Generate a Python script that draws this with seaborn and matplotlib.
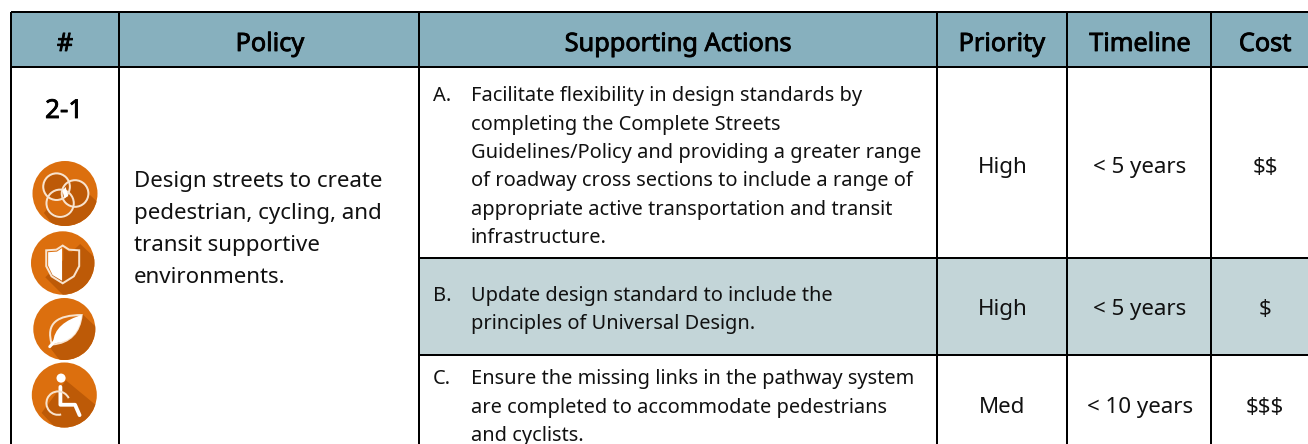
import numpy as np
import matplotlib
matplotlib.use("Agg")
import matplotlib.pyplot as plt
import matplotlib.patheffects as pe
from matplotlib.patches import Circle, Polygon, Arc, PathPatch
from matplotlib.path import Path
import seaborn as sns

headers = ["#", "Policy", "Supporting Actions", "Priority", "Timeline", "Cost"]
policy_id = "2-1"
policy_lines = ["Design streets to create", "pedestrian, cycling, and",
                "transit supportive", "environments."]
action_letters = ["A.", "B.", "C."]
action_lines = [
    ["Facilitate flexibility in design standards by", "completing the Complete Streets",
     "Guidelines/Policy and providing a greater range", "of roadway cross sections to include a range of",
     "appropriate active transportation and transit", "infrastructure."],
    ["Update design standard to include the", "principles of Universal Design."],
    ["Ensure the missing links in the pathway system", "are completed to accommodate pedestrians",
     "and cyclists."],
]
priorities = ["High", "High", "Med"]
timelines = ["< 5 years", "< 5 years", "< 10 years"]
costs = ["$$", "$", "$$$"]

col_edges = [11, 118.5, 418.5, 936.7, 1067, 1211, 1312]
col_centers = [65, 270, 678, 1002, 1140, 1265]
row_edges = [12, 67.5, 258, 354.5, 448]

HEAD = "#87B0BE"
BAND = "#C3D5D8"
ORANGE = "#DC6F0E"
SHADE = "#BD5A07"
INK = "#111111"
FONT = "Noto Sans"

sns.set_theme(style="white", rc={"axes.facecolor": "white", "figure.facecolor": "white"})
plt.rcParams["font.family"] = [FONT, "DejaVu Sans"]

fig = plt.figure(figsize=(13.08, 4.44), dpi=100)
ax = fig.add_axes([0, 0, 1, 1])
ax.set_xlim(0, 1308)
ax.set_ylim(444, 0)
ax.axis("off")
sns.despine(ax=ax, left=True, bottom=True)

PX = 0.72  # points per pixel at dpi 100

# fills
ax.fill_between([col_edges[0], 1308], row_edges[0], row_edges[1], color=HEAD, lw=0, zorder=1)
ax.fill_between([col_edges[2], 1308], row_edges[2], row_edges[3], color=BAND, lw=0, zorder=1)

# rules
LW = 2.0 * PX
for y in row_edges[:2]:
    ax.plot([col_edges[0], 1308], [y, y], color="black", lw=LW, zorder=3, solid_capstyle="butt")
for y in row_edges[2:4]:
    ax.plot([col_edges[2], 1308], [y, y], color="black", lw=LW, zorder=3, solid_capstyle="butt")
for x in col_edges[:6]:
    ax.plot([x, x], [row_edges[0], 444], color="black", lw=LW, zorder=3, solid_capstyle="butt")

# text
head_fx = [pe.withStroke(linewidth=0.6, foreground="black")]
for h, cx in zip(headers, col_centers):
    ax.text(cx, 51, h, ha="center", va="baseline", fontsize=25.3 * PX, color="black",
            path_effects=head_fx, zorder=5, parse_math=False)
ax.text(col_centers[0] - 1, 118, policy_id, ha="center", va="baseline", fontsize=26 * PX,
        color="black", path_effects=head_fx, zorder=5, parse_math=False)

for line, y in zip(policy_lines, [187, 219, 251, 283]):
    ax.text(134, y, line, ha="left", va="baseline", fontsize=22.3 * PX, color=INK, zorder=5)

action_base = [[101, 129.5, 158, 186, 214.5, 243], [301, 329], [384, 412.5, 441]]
for letter, lines, ys in zip(action_letters, action_lines, action_base):
    ax.text(433, ys[0], letter, ha="left", va="baseline", fontsize=20 * PX, color=INK, zorder=5)
    for line, y in zip(lines, ys):
        ax.text(471, y, line, ha="left", va="baseline", fontsize=20 * PX, color=INK, zorder=5)

cell_base = [172.5, 315, 412.5]
for p, t, c, y in zip(priorities, timelines, costs, cell_base):
    ax.text(col_centers[3] + 0.5, y, p, ha="center", va="baseline", fontsize=22.3 * PX, color=INK, zorder=5, parse_math=False)
    ax.text(col_centers[4], y, t, ha="center", va="baseline", fontsize=22.3 * PX, color=INK, zorder=5, parse_math=False)
    ax.text(col_centers[5], y, c, ha="center", va="baseline", fontsize=22.3 * PX, color=INK, zorder=5, parse_math=False)

# icons
icon_x = [65, 62.7, 64.3, 64.3]
icon_y = [193.5, 263, 329, 395]
icon_r = [32.5, 31.7, 31, 32.5]
WL = 2.0 * PX
PALE = "#F8E3CE"


def tr(cx, cy, r, pts):
    return [(cx + a * r, cy + b * r) for a, b in pts]


def icon_base(cx, cy, r, shadow):
    disc = Circle((cx, cy), r, fc=ORANGE, ec="none", zorder=6)
    ax.add_patch(disc)
    sh = Polygon(tr(cx, cy, r, shadow), closed=True, fc=SHADE, ec="none", zorder=7)
    ax.add_patch(sh)
    sh.set_clip_path(disc)


# venn
cx, cy, r = icon_x[0], icon_y[0], icon_r[0]
icon_base(cx, cy, r, [(0.1, -0.3), (0.72, 0.0), (1.2, 0.45), (1.2, 1.2), (-0.2, 1.2), (-0.65, 0.6)])
ax.add_patch(Circle((cx - 0.26 * r, cy - 0.21 * r), 0.38 * r, fc=SHADE, ec="none", zorder=7.5))
ax.add_patch(Circle((cx + 0.31 * r, cy), 0.38 * r, fc=SHADE, ec="none", zorder=7.5))
ax.add_patch(Circle((cx - 0.15 * r, cy + 0.3 * r), 0.38 * r, fc=ORANGE, ec="none", zorder=7.4))
for a, b, c in [(-0.26, -0.21, 0.41), (0.31, 0.0, 0.41), (-0.15, 0.3, 0.42)]:
    ax.add_patch(Circle((cx + a * r, cy + b * r), c * r, fc="none", ec=PALE, lw=WL, zorder=8))
ax.add_patch(Polygon(tr(cx, cy, r, [(-0.08, -0.08), (0.02, -0.2), (0.1, 0.08), (-0.02, 0.14)]),
                     fc="#FFFFFF", ec="none", zorder=8))

# shield
cx, cy, r = icon_x[1], icon_y[1], icon_r[1]
icon_base(cx, cy, r, [(0.55, -0.6), (1.2, 0.0), (1.2, 1.2), (0.2, 1.2), (-0.55, 0.45)])
shield = [(-0.52, -0.4), (-0.2, -0.42), (0.0, -0.55), (0.2, -0.42), (0.52, -0.4),
          (0.52, 0.1), (0.35, 0.42), (0.0, 0.64), (-0.35, 0.42), (-0.52, 0.1)]
ax.add_patch(Polygon(tr(cx, cy, r, shield), closed=True, fc="none", ec=PALE, lw=WL, zorder=8))
ax.add_patch(Polygon(tr(cx, cy, r, [(-0.46, -0.34), (-0.18, -0.36), (-0.02, -0.47), (-0.02, 0.56),
                                    (-0.32, 0.38), (-0.46, 0.08)]),
                     closed=True, fc="#FFFFFF", ec="none", zorder=8))
ax.add_patch(Polygon(tr(cx, cy, r, [(0.02, -0.47), (0.2, -0.36), (0.46, -0.34), (0.46, 0.08),
                                    (0.3, 0.38), (0.02, 0.56)]),
                     closed=True, fc=SHADE, ec="none", zorder=7.5))

# leaf
cx, cy, r = icon_x[2], icon_y[2], icon_r[2]
icon_base(cx, cy, r, [(0.56, -0.5), (1.2, 0.1), (1.2, 1.2), (0.0, 1.2), (-0.5, 0.55)])
ax.add_patch(PathPatch(Path(tr(cx, cy, r, [(-0.4, 0.5), (-0.62, -0.2), (-0.2, -0.45), (0.56, -0.45),
                                           (0.5, 0.1), (0.2, 0.45), (-0.4, 0.5)]),
                            [Path.MOVETO] + [Path.CURVE4] * 6),
                       fc="none", ec=PALE, lw=WL, zorder=8))
ax.add_patch(PathPatch(Path(tr(cx, cy, r, [(-0.36, 0.46), (-0.35, -0.02), (0.05, -0.3), (0.56, -0.45),
                                           (0.5, 0.1), (0.2, 0.44), (-0.36, 0.46)]),
                            [Path.MOVETO] + [Path.CURVE4] * 6),
                       fc="white", ec="none", zorder=8))
ax.plot(*zip(*tr(cx, cy, r, [(-0.47, 0.57), (-0.28, 0.36)])), color="white", lw=3 * PX, zorder=8,
        solid_capstyle="round")

# wheelchair
cx, cy, r = icon_x[3], icon_y[3], icon_r[3]
icon_base(cx, cy, r, [(0.05, -0.45), (1.2, 0.5), (1.2, 1.2), (-0.1, 1.2), (-0.7, 0.55)])
ax.add_patch(Circle((cx - 0.1 * r, cy - 0.52 * r), 0.14 * r, fc="white", ec="none", zorder=8))
ax.plot(*zip(*tr(cx, cy, r, [(-0.12, -0.25), (-0.12, 0.3), (0.33, 0.3), (0.47, 0.62)])),
        color="white", lw=3.8 * PX, zorder=8, solid_capstyle="round", solid_joinstyle="round")
ax.add_patch(Arc((cx - 0.19 * r, cy + 0.25 * r), 0.72 * r, 0.72 * r, theta1=75, theta2=335,
                 ec=PALE, lw=WL, zorder=8))

fig.savefig("out.png", dpi=100)
